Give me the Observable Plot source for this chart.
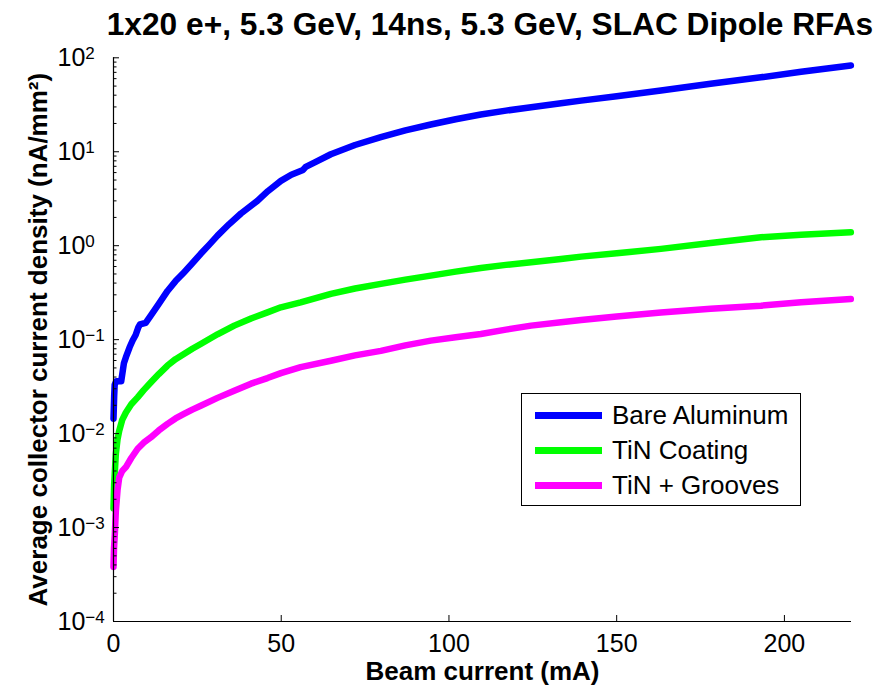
<!DOCTYPE html>
<html><head><meta charset="utf-8">
<script src="https://cdn.jsdelivr.net/npm/d3@7"></script>
<script src="https://cdn.jsdelivr.net/npm/@observablehq/plot@0.6"></script>
<style>
body{margin:0;background:#fff;font-family:"Liberation Sans",Arial,Helvetica,sans-serif;}
#wrap{position:relative;width:879px;height:686px;overflow:hidden;}
#title{height:44px;line-height:48px;font-size:31.7px;font-weight:bold;white-space:nowrap;text-align:center;width:879px;padding-left:101px;box-sizing:border-box;color:#000;}
#legend{position:absolute;left:521px;top:393px;width:278px;height:111px;border:1px solid #000;background:#fff;}
.lg-line{position:absolute;left:13px;width:67px;height:7px;}
.lg-text{position:absolute;left:90px;height:34px;line-height:34px;font-size:26px;white-space:nowrap;color:#000;}
</style></head><body>
<div id="wrap">
<div id="title">1x20 e+, 5.3 GeV, 14ns, 5.3 GeV, SLAC Dipole RFAs</div>
<div id="chart"></div>
<div id="legend"></div>
</div>
<script>
// ---- data ----
const seriesNames = ["Bare Aluminum", "TiN Coating", "TiN + Grooves"];
const seriesColors = ["#0000ff", "#00ff00", "#ff00ff"];

const bareX = [0, 0.2, 0.35, 0.8, 2.3, 3.1, 3.7, 4.8, 5.7, 6.6, 7.4, 7.9, 9.6, 11.1, 13.5, 16.1, 18.5, 21, 23.5, 26, 28.5, 31, 34.5, 38, 42.9, 46, 49.9, 53, 56.5, 57.3, 60, 64.8, 72, 79.7, 87, 94.6, 102, 109.5, 117, 124.5, 133.4, 139.4, 150, 163.2, 178, 193, 205, 219.8];
const bareY = [0.0144, 0.025, 0.033, 0.036, 0.036, 0.056, 0.065, 0.083, 0.098, 0.112, 0.135, 0.145, 0.151, 0.18, 0.24, 0.33, 0.42, 0.52, 0.65, 0.82, 1.02, 1.28, 1.7, 2.2, 3.0, 3.8, 4.9, 5.7, 6.4, 6.9, 7.7, 9.4, 11.8, 14.3, 16.9, 19.5, 22.2, 24.9, 27.4, 29.8, 32.8, 35, 39, 44.9, 53, 62, 71, 82.8];

const tinX = [0, 0.2, 0.7, 1.2, 1.7, 2.6, 3.7, 5.3, 7.2, 9, 11.1, 13.5, 16.1, 18.5, 21, 23.5, 26, 31, 36, 41, 45.9, 49.9, 55.8, 64.8, 72, 79.7, 87, 94.6, 102, 109.5, 117, 124.5, 133.4, 139.4, 150, 163.2, 178, 193, 205, 219.8];
const tinY = [0.0016, 0.0029, 0.0061, 0.0087, 0.0107, 0.014, 0.0168, 0.0205, 0.0243, 0.029, 0.035, 0.043, 0.053, 0.062, 0.0704, 0.08, 0.09, 0.114, 0.141, 0.168, 0.195, 0.221, 0.249, 0.307, 0.35, 0.392, 0.435, 0.48, 0.53, 0.58, 0.625, 0.665, 0.72, 0.765, 0.83, 0.925, 1.07, 1.23, 1.31, 1.39];

const grooveX = [0, 0.15, 0.4, 0.7, 1.2, 1.7, 2.6, 3.7, 5.3, 7.2, 9, 11.1, 13.5, 16.1, 18.5, 21, 23.5, 26, 31, 36, 41, 45.9, 49.9, 55.8, 64.8, 72, 79.7, 87, 94.6, 102, 109.5, 117, 124.5, 133.4, 139.4, 150, 163.2, 178, 193, 205, 219.8];
const grooveY = [0.00038, 0.0006, 0.00085, 0.0015, 0.0025, 0.0034, 0.004, 0.0044, 0.0055, 0.0069, 0.008, 0.0091, 0.0108, 0.0127, 0.0145, 0.0162, 0.018, 0.0198, 0.024, 0.0286, 0.034, 0.039, 0.044, 0.051, 0.0597, 0.068, 0.076, 0.087, 0.0977, 0.106, 0.115, 0.128, 0.141, 0.153, 0.162, 0.176, 0.195, 0.213, 0.23, 0.25, 0.271];

const xTicks = [0, 50, 100, 150, 200];
const yMajor = [1e-4, 1e-3, 1e-2, 1e-1, 1, 10, 100];
const yTickLabels = ["10^−4", "10^−3", "10^−2", "10^−1", "10^0", "10^1", "10^2"];
const xLabel = "Beam current (mA)";
const yLabel = "Average collector current density (nA/mm²)";

// ---- build ----
const yMinor = [];
for (const d of yMajor.slice(0, -1)) for (let k = 2; k <= 9; k++) yMinor.push(d * k);

const toRows = (xs, ys) => xs.map((x, i) => ({x, y: ys[i]}));
const series = [toRows(bareX, bareY), toRows(tinX, tinY), toRows(grooveX, grooveY)];

const chart = Plot.plot({
  width: 879, height: 642,
  marginTop: 13.3, marginBottom: 65, marginLeft: 113, marginRight: 28,
  style: {fontFamily: "Liberation Sans, Arial, Helvetica, sans-serif", fontSize: "25px", color: "#000", background: "#fff", overflow: "visible"},
  x: {domain: [0, 220], label: null},
  y: {type: "log", domain: [1e-4, 1e2], label: null},
  marks: [
    ...series.map((rows, i) => Plot.line(rows, {x: "x", y: "y", stroke: seriesColors[i], strokeWidth: 6.5, strokeLinejoin: "round"})),
    Plot.ruleX([0], {stroke: "#000", strokeWidth: 1.2}),
    Plot.ruleY([1e-4], {stroke: "#000", strokeWidth: 1.2}),
    Plot.axisY(yMajor, {tickSize: -6, tickFormat: () => "", label: null}),
    Plot.axisY(yMinor, {tickSize: -3.5, tickFormat: () => "", label: null}),
    Plot.axisX(xTicks, {tickSize: -6, tickFormat: () => "", label: null}),
    Plot.axisX(xTicks, {tickSize: 0, tickPadding: 13, fontSize: 25, label: null}),
    Plot.text(yMajor, {y: d => d, text: (d, i) => yTickLabels[i], frameAnchor: "left", dx: -56, textAnchor: "start", fontSize: 25}),
    Plot.text([xLabel], {text: d => d, frameAnchor: "bottom", dy: 50, lineAnchor: "middle", textAnchor: "middle", fontWeight: "bold", fontSize: 26}),
    Plot.text([yLabel], {text: d => d, frameAnchor: "left", rotate: -90, dx: -74.6, lineAnchor: "middle", textAnchor: "middle", fontWeight: "bold", fontSize: 26})
  ]
});

d3.select(chart).selectAll("text").each(function () {
  const m = this.textContent.match(/^10\^(.+)$/);
  if (m) {
    const t = d3.select(this);
    t.text("10");
    t.append("tspan").attr("dy", "-7").attr("font-size", "17px").text(m[1]);
  }
});
document.getElementById("chart").appendChild(chart);

// legend
const legend = document.getElementById("legend");
const rowCenters = [21, 56, 91];
seriesNames.forEach((name, i) => {
  const ln = document.createElement("div");
  ln.className = "lg-line";
  ln.style.top = (rowCenters[i] - 3.5) + "px";
  ln.style.background = seriesColors[i];
  legend.appendChild(ln);
  const tx = document.createElement("div");
  tx.className = "lg-text";
  tx.style.top = (rowCenters[i] - 17) + "px";
  tx.textContent = name;
  legend.appendChild(tx);
});
</script>
</body></html>
